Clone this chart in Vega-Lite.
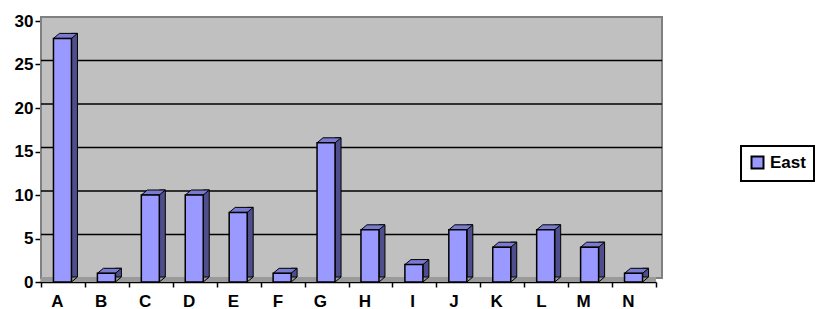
{
  "$schema": "https://vega.github.io/schema/vega-lite/v6.json",
  "autosize": "none",
  "width": 615,
  "height": 261,
  "padding": {"left": 41, "top": 21, "right": 161, "bottom": 27},
  "background": "white",
  "view": {"fill": "#C0C0C0", "stroke": null},
  "config": {
    "font": "Liberation Sans",
    "axis": {"labelFont": "Liberation Sans", "labelFontWeight": "bold", "labelFontSize": 17, "labelColor": "black", "domainColor": "black", "tickColor": "black", "domainWidth": 1.5, "tickWidth": 1.5, "grid": false, "title": null}
  },
  "datasets": {
    "bars": [
      {"category": "A", "value": 28, "series": "East"},
      {"category": "B", "value": 1, "series": "East"},
      {"category": "C", "value": 10, "series": "East"},
      {"category": "D", "value": 10, "series": "East"},
      {"category": "E", "value": 8, "series": "East"},
      {"category": "F", "value": 1, "series": "East"},
      {"category": "G", "value": 16, "series": "East"},
      {"category": "H", "value": 6, "series": "East"},
      {"category": "I", "value": 2, "series": "East"},
      {"category": "J", "value": 6, "series": "East"},
      {"category": "K", "value": 4, "series": "East"},
      {"category": "L", "value": 6, "series": "East"},
      {"category": "M", "value": 4, "series": "East"},
      {"category": "N", "value": 1, "series": "East"}
    ],
    "grid": [{"g": 5}, {"g": 10}, {"g": 15}, {"g": 20}, {"g": 25}]
  },
  "data": {"name": "bars"},
  "layer": [
    {
      "mark": {"type": "rect", "fill": "#C0C0C0", "stroke": "#808080", "strokeWidth": 2, "xOffset": 6, "x2Offset": 6, "yOffset": -4, "y2Offset": -4},
      "encoding": {
        "y": {"datum": 30, "type": "quantitative", "scale": {"domain": [0, 30]}},
        "y2": {"datum": 0}
      }
    },
    {
      "mark": {"type": "rect", "fill": "#9A9A9A", "yOffset": -5},
      "encoding": {
        "y": {"datum": 0, "type": "quantitative"},
        "y2": {"datum": 0}
      }
    },
    {
      "data": {"name": "grid"},
      "mark": {"type": "rule", "stroke": "black", "strokeWidth": 1.5, "yOffset": -4, "xOffset": 6, "x2Offset": 6},
      "encoding": {
        "y": {"field": "g", "type": "quantitative"}
      }
    },
    {
      "mark": {"type": "bar", "width": 6, "xOffset": 11.5, "yOffset": -5, "fill": "#4E4E8C", "stroke": "black", "strokeWidth": 1},
      "encoding": {
        "x": {"field": "category", "type": "nominal"},
        "y": {"field": "value", "type": "quantitative"}
      }
    },
    {
      "mark": {"type": "point", "shape": "M-9.5,0 L8.5,0 L14.5,-5 L-3.5,-5 Z", "size": 4, "filled": true, "opacity": 1, "fill": "#7A7AD0", "stroke": "black", "strokeWidth": 1},
      "encoding": {
        "x": {"field": "category", "type": "nominal"},
        "y": {"field": "value", "type": "quantitative"}
      }
    },
    {
      "mark": {"type": "point", "shape": "M9.2,0 L15.6,0 L15.6,-5.6 Z", "size": 4, "filled": true, "opacity": 1, "fill": "#9A9A9A", "strokeWidth": 0},
      "encoding": {
        "x": {"field": "category", "type": "nominal"},
        "y": {"datum": 0, "type": "quantitative"}
      }
    },
    {
      "mark": {"type": "point", "shape": "M8.5,0 L14.5,-5", "size": 4, "filled": false, "opacity": 1, "stroke": "black", "strokeWidth": 1},
      "encoding": {
        "x": {"field": "category", "type": "nominal"},
        "y": {"datum": 0, "type": "quantitative"}
      }
    },
    {
      "mark": {"type": "bar", "width": 18, "xOffset": -0.5, "stroke": "black", "strokeWidth": 1.5},
      "encoding": {
        "x": {"field": "category", "type": "nominal", "sort": null,
              "scale": {"paddingInner": 0, "paddingOuter": 0},
              "axis": {"labelAngle": 0, "tickBand": "extent", "tickSize": 5, "labelPadding": 6, "labelBaseline": "top", "labelFontWeight": "bold", "labelFontSize": 17}},
        "y": {"field": "value", "type": "quantitative",
              "scale": {"domain": [0, 30], "nice": false},
              "axis": {"values": [0, 5, 10, 15, 20, 25, 30], "tickSize": 6, "labelPadding": 2, "labelFontWeight": "bold", "labelFontSize": 17}},
        "color": {"field": "series", "type": "nominal", "scale": {"range": ["#9999FF"]},
                  "legend": {"orient": "none", "legendX": 700, "legendY": 125, "title": null, "symbolType": "square", "symbolSize": 144, "symbolStrokeColor": "black", "symbolStrokeWidth": 2, "symbolFillColor": "#9999FF", "labelFontSize": 17, "labelFontWeight": "bold", "labelColor": "black", "labelFont": "Liberation Sans", "padding": 8, "labelOffset": 4,
                             "strokeColor": "black",
                             "encode": {"legend": {"update": {"strokeWidth": {"value": 2}}}}}}
      }
    }
  ]
}
